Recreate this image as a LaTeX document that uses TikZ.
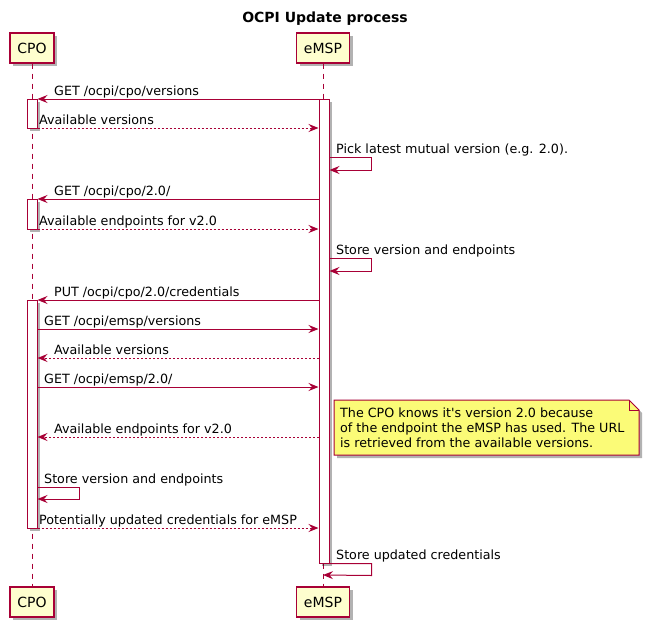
\documentclass[tikz,border=0pt]{standalone}
\usepackage{fontspec}
\setmainfont{DejaVu Sans}
\usetikzlibrary{arrows.meta}
\usetikzlibrary{shadows}
\definecolor{umlred}{HTML}{A80036}
\definecolor{umlbox}{HTML}{FEFECE}
\definecolor{umlnote}{HTML}{FBFB77}
\tikzstyle{shadowstyle}=[drop shadow={shadow xshift=3pt, shadow yshift=-3pt, opacity=0.3, fill=black}]
\tikzstyle{partstyle}=[draw=umlred, fill=umlbox, line width=1.2pt, minimum height=30pt, inner sep=0pt, font=\fontsize{14}{16}\selectfont, shadowstyle]
\tikzstyle{actstyle}=[draw=umlred, fill=white, line width=1pt, minimum width=10pt, inner sep=0pt, shadowstyle]
\tikzstyle{lifestyle}=[draw=umlred, line width=1pt, dash pattern=on 5pt off 5pt]
\tikzstyle{msgstyle}=[draw=umlred, line width=1pt, -{Stealth[length=10pt, width=8pt, inset=3.5pt]}]
\tikzstyle{retstyle}=[msgstyle, dash pattern=on 2pt off 2pt]
\tikzstyle{lbl}=[anchor=base west, inner sep=0pt, font=\fontsize{12.7}{15}\selectfont]
\tikzstyle{notestyle}=[draw=umlred, fill=umlnote, line width=1pt, shadowstyle]
\newcommand{\actbar}[4]{\node [actstyle, minimum height=#4pt] (#1) at (#2,#3) {};}

\begin{document}
\begin{tikzpicture}[x=1pt, y=-1pt]
\useasboundingbox (0,0) rectangle (650,629);
\node [font=\bfseries\fontsize{14}{16}\selectfont, anchor=base] (title) at (325,23) {OCPI Update process};
% participants
\node [partstyle, minimum width=44pt] (cpoTop) at (32,48) {CPO};
\node [partstyle, minimum width=53pt] (emspTop) at (323,48) {eMSP};
\node [partstyle, minimum width=44pt] (cpoBot) at (32,602) {CPO};
\node [partstyle, minimum width=53pt] (emspBot) at (323,602) {eMSP};
\draw [lifestyle] (cpoTop.south) -- (cpoBot.north);
\draw [lifestyle] (emspTop.south) -- (emspBot.north);
% activations
\actbar{cpoA1}{32}{113.5}{29}
\actbar{cpoA2}{32}{214}{30}
\actbar{cpoA3}{32}{414}{228}
\actbar{emspA}{324}{331}{464}
% messages
\draw [msgstyle] (emspA.west |- 0,99) -- (cpoA1.east |- 0,99);
\node [lbl] (m1) at (54,95) {GET /ocpi/cpo/versions};
\draw [retstyle] (cpoA1.east |- 0,128) -- (emspA.west |- 0,128);
\node [lbl] (m2) at (39,124) {Available versions};
\draw [msgstyle] (emspA.east |- 0,157) -- ++(42,0) -- ++(0,13) -- (emspA.east |- 0,170);
\node [lbl] (m3) at (336,153) {Pick latest mutual version (e.g. 2.0).};
\draw [msgstyle] (emspA.west |- 0,199) -- (cpoA2.east |- 0,199);
\node [lbl] (m4) at (54,195) {GET /ocpi/cpo/2.0/};
\draw [retstyle] (cpoA2.east |- 0,229) -- (emspA.west |- 0,229);
\node [lbl] (m5) at (39,225) {Available endpoints for v2.0};
\draw [msgstyle] (emspA.east |- 0,258) -- ++(42,0) -- ++(0,13) -- (emspA.east |- 0,271);
\node [lbl] (m6) at (336,254) {Store version and endpoints};
\draw [msgstyle] (emspA.west |- 0,300) -- (cpoA3.east |- 0,300);
\node [lbl] (m7) at (54,296) {PUT /ocpi/cpo/2.0/credentials};
\draw [msgstyle] (cpoA3.east |- 0,329) -- (emspA.west |- 0,329);
\node [lbl] (m8) at (44,325) {GET /ocpi/emsp/versions};
\draw [retstyle] (emspA.west |- 0,358) -- (cpoA3.east |- 0,358);
\node [lbl] (m9) at (54,354) {Available versions};
\draw [msgstyle] (cpoA3.east |- 0,387) -- (emspA.west |- 0,387);
\node [lbl] (m10) at (44,383) {GET /ocpi/emsp/2.0/};
\draw [retstyle] (emspA.west |- 0,437) -- (cpoA3.east |- 0,437);
\node [lbl] (m11) at (54,433) {Available endpoints for v2.0};
% note
\draw [notestyle] (334,400) -- (629,400) -- (639,410) -- (639,455) -- (334,455) -- cycle;
\draw [draw=umlred, line width=1pt] (629,400) -- (629,410) -- (639,410);
\node [lbl, anchor=north west, align=left] (noteText) at (340,408) {The CPO knows it\textquotesingle s version 2.0 because\\of the endpoint the eMSP has used. The URL\\is retrieved from the available versions.};
\draw [msgstyle] (cpoA3.east |- 0,487) -- ++(42,0) -- ++(0,12) -- (cpoA3.east |- 0,499);
\node [lbl] (m12) at (44,483) {Store version and endpoints};
\draw [retstyle] (cpoA3.east |- 0,528) -- (emspA.west |- 0,528);
\node [lbl] (m13) at (39,524) {Potentially updated credentials for eMSP};
\draw [msgstyle] (emspA.south east) -- ++(42,0) -- ++(0,12) -- (emspBot.north |- 0,575);
\node [lbl] (m14) at (336,559) {Store updated credentials};
\end{tikzpicture}
\end{document}
